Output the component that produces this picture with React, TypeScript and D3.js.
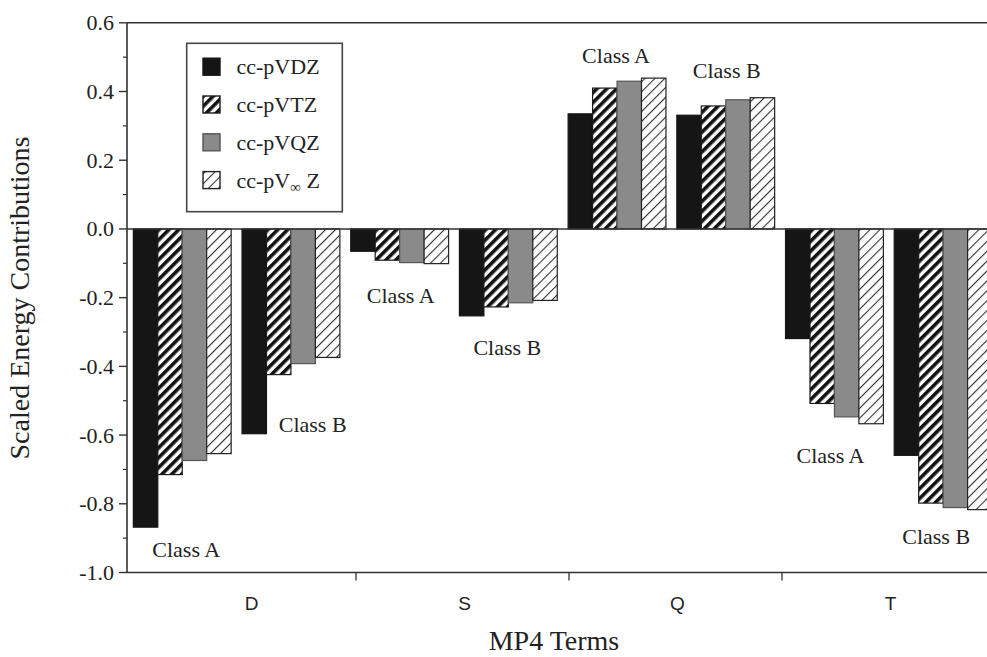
import React from "react";
import * as d3 from "d3";

// ---------- data ----------
const groups = ["D-A", "D-B", "S-A", "S-B", "Q-A", "Q-B", "T-A", "T-B"];
const classLabels = ["Class A", "Class B", "Class A", "Class B", "Class A", "Class B", "Class A", "Class B"];
const categories = ["D", "S", "Q", "T"];
const seriesNames = ["cc-pVDZ", "cc-pVTZ", "cc-pVQZ", "cc-pV∞Z"];
const vdz = [-0.868, -0.596, -0.065, -0.253, 0.335, 0.331, -0.319, -0.659];
const vtz = [-0.715, -0.424, -0.091, -0.227, 0.41, 0.358, -0.508, -0.798];
const vqz = [-0.674, -0.392, -0.098, -0.215, 0.43, 0.376, -0.547, -0.811];
const vinf = [-0.654, -0.374, -0.101, -0.208, 0.439, 0.382, -0.567, -0.817];
const yTicks = [-1.0, -0.8, -0.6, -0.4, -0.2, 0.0, 0.2, 0.4, 0.6];
const yMinorTicks = [-0.9, -0.7, -0.5, -0.3, -0.1, 0.1, 0.3, 0.5];

// ---------- layout ----------
const W = 987;
const H = 657;
const series = [vdz, vtz, vqz, vinf];
const fills = ["#151515", "url(#hatchDense)", "#8a8a8a", "url(#hatchLight)"];
const strokes = ["#151515", "#1a1a1a", "#555", "#222"];
// label offsets: [dx from group centre, dy from extreme bar end]
const labelOffsets = [
  [4, 22], [22, 0], [1, 32], [-1, 32], [-1, -23], [1, -27], [-4, 32], [-7, 27],
];

const serif = "'Liberation Serif', 'Times New Roman', serif";
const sans = "'Liberation Sans', Arial, sans-serif";
const ink = "#222";

export default function App() {
  const y = d3.scaleLinear().domain([-1.0, 0.6]).range([572.5, 22.8]);
  const xg = d3.scaleBand().domain(groups).range([127.9, 997.5]).paddingInner(0.1).paddingOuter(0.05);
  const xs = d3.scaleBand().domain(seriesNames).range([0, xg.bandwidth()]);
  const xc = d3.scaleBand().domain(categories).range([143, 995]);
  const axisX = 127;
  const right = 1000;

  return (
    <svg width={W} height={H} style={{ position: "absolute", left: 0, top: 0, background: "#fff" }}>
      <defs>
        <pattern id="hatchDense" patternUnits="userSpaceOnUse" width={7} height={7} patternTransform="rotate(45)">
          <rect width={7} height={7} fill="#fff" />
          <rect width={3.6} height={7} fill="#111" />
        </pattern>
        <pattern id="hatchLight" patternUnits="userSpaceOnUse" width={7} height={7} patternTransform="rotate(45)">
          <rect width={7} height={7} fill="#fff" />
          <rect width={1.1} height={7} fill="#333" />
        </pattern>
      </defs>
      <rect width={W} height={H} fill="#fff" />

      {/* bars */}
      {groups.map((g, gi) => (
        <g key={g}>
          {series.map((s, si) => {
            const v = s[gi];
            const x0 = (xg(g) as number) + (xs(seriesNames[si]) as number);
            const y0 = Math.min(y(v), y(0));
            const h = Math.abs(y(v) - y(0));
            return (
              <rect key={si} x={x0} y={y0} width={xs.bandwidth()} height={h}
                fill={fills[si]} stroke={strokes[si]} strokeWidth={1.2} />
            );
          })}
        </g>
      ))}

      {/* zero line */}
      <line x1={axisX} x2={right} y1={y(0)} y2={y(0)} stroke="#333" strokeWidth={1.4} />

      {/* frame */}
      <line x1={axisX} x2={right} y1={y(0.6)} y2={y(0.6)} stroke="#333" strokeWidth={1.6} />
      <line x1={axisX} x2={right} y1={y(-1.0)} y2={y(-1.0)} stroke="#333" strokeWidth={1.6} />
      <line x1={axisX} x2={axisX} y1={y(0.6)} y2={y(-1.0)} stroke="#333" strokeWidth={1.6} />

      {/* y ticks */}
      {yTicks.map((t) => (
        <g key={t}>
          <line x1={axisX - 8} x2={axisX} y1={y(t)} y2={y(t)} stroke="#333" strokeWidth={1.4} />
          <text x={axisX - 13} y={y(t) + 7.5} textAnchor="end" fontFamily={serif} fontSize={22} fill={ink}>
            {d3.format(".1f")(t).replace("−", "-")}
          </text>
        </g>
      ))}
      {yMinorTicks.map((t) => (
        <line key={t} x1={axisX - 4} x2={axisX} y1={y(t)} y2={y(t)} stroke="#333" strokeWidth={1.2} />
      ))}

      {/* x ticks & category labels */}
      {categories.slice(1).map((c) => (
        <line key={c} x1={xc(c) as number} x2={xc(c) as number} y1={y(-1.0)} y2={y(-1.0) + 8} stroke="#333" strokeWidth={1.3} />
      ))}
      {categories.map((c) => (
        <text key={c} x={(xc(c) as number) + xc.bandwidth() / 2 + 2} y={610} textAnchor="middle"
          fontFamily={sans} fontSize={19} fill={ink}>{c}</text>
      ))}

      {/* class labels */}
      {groups.map((g, gi) => {
        const vals = series.map((s) => s[gi]);
        const ext = vals[0] < 0 ? d3.min(vals) as number : d3.max(vals) as number;
        const cx = (xg(g) as number) + xg.bandwidth() / 2 + labelOffsets[gi][0];
        let cy = y(ext) + labelOffsets[gi][1];
        if (gi === 1) cy = (y(vals[0]) + y(vals[1])) / 2 + 20;
        const anchor = gi === 1 ? "start" : "middle";
        const lx = gi === 1 ? (xg(g) as number) + xs.bandwidth() * 1.5 + 0 : cx;
        return (
          <text key={g} x={lx} y={cy + 7.5} textAnchor={anchor} fontFamily={serif} fontSize={22} fill={ink}>
            {classLabels[gi]}
          </text>
        );
      })}

      {/* legend */}
      <rect x={186.7} y={43.3} width={155.6} height={168.4} fill="#fff" stroke="#444" strokeWidth={1.6} />
      {seriesNames.map((n, i) => {
        const cy = 66.7 + i * 37.8;
        return (
          <g key={n}>
            <rect x={203} y={cy - 8.5} width={17} height={17} fill={fills[i]} stroke={strokes[i]} strokeWidth={1.4} />
            {i < 3 ? (
              <text x={236.5} y={cy + 7.5} fontFamily={serif} fontSize={22} fill={ink}>{n}</text>
            ) : (
              <text x={236.5} y={cy + 7.5} fontFamily={serif} fontSize={22} fill={ink}>
                cc-pV<tspan fontSize={15} dy={4}>∞</tspan><tspan dy={-4}> Z</tspan>
              </text>
            )}
          </g>
        );
      })}

      {/* axis titles */}
      <text transform={`translate(29,298) rotate(-90)`} textAnchor="middle" fontFamily={serif} fontSize={28} fill={ink}>
        Scaled Energy Contributions
      </text>
      <text x={554} y={650} textAnchor="middle" fontFamily={serif} fontSize={28} fill={ink}>MP4 Terms</text>
    </svg>
  );
}
